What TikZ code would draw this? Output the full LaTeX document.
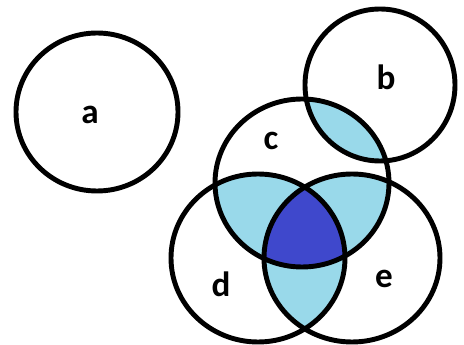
\documentclass[tikz,border=0pt]{standalone}
\usepackage{fontspec}
\setsansfont{Carlito}
\definecolor{paleblue}{HTML}{99D9EA}
\definecolor{deepblue}{HTML}{3F48CC}
\begin{document}
\begin{tikzpicture}[x=0.03cm, y=-0.03cm, font=\sffamily\bfseries\fontsize{30}{36}\selectfont]
        \def\setA{(97,112) ellipse [x radius=81, y radius=79]}
        \def\setB{(380,85) ellipse [x radius=75, y radius=76]}
        \def\setC{(302,183) ellipse [x radius=87, y radius=84]}
        \def\setD{(258,258) ellipse [x radius=87, y radius=84]}
        \def\setE{(352,258) ellipse [x radius=88, y radius=84]}

        \useasboundingbox (0,0) rectangle (464,345);

        % pairwise overlaps
        \begin{scope}
            \clip \setC;
            \fill[paleblue] \setB;
            \fill[paleblue] \setD;
            \fill[paleblue] \setE;
        \end{scope}
        \begin{scope}
            \clip \setD;
            \fill[paleblue] \setE;
        \end{scope}

        % triple overlap
        \begin{scope}
            \clip \setC;
            \clip \setD;
            \fill[deepblue] \setE;
        \end{scope}

        \draw[line width=4.2pt] \setA;
        \draw[line width=4.2pt] \setB;
        \draw[line width=4.2pt] \setC;
        \draw[line width=4.2pt] \setD;
        \draw[line width=4.2pt] \setE;

        \node[anchor=base] (a) at (90,124) {a};
        \node[anchor=base] (b) at (386,90) {b};
        \node[anchor=base] (c) at (271,150) {c};
        \node[anchor=base] (d) at (221,297) {d};
        \node[anchor=base] (e) at (384,288) {e};
    \end{tikzpicture}
\end{document}
